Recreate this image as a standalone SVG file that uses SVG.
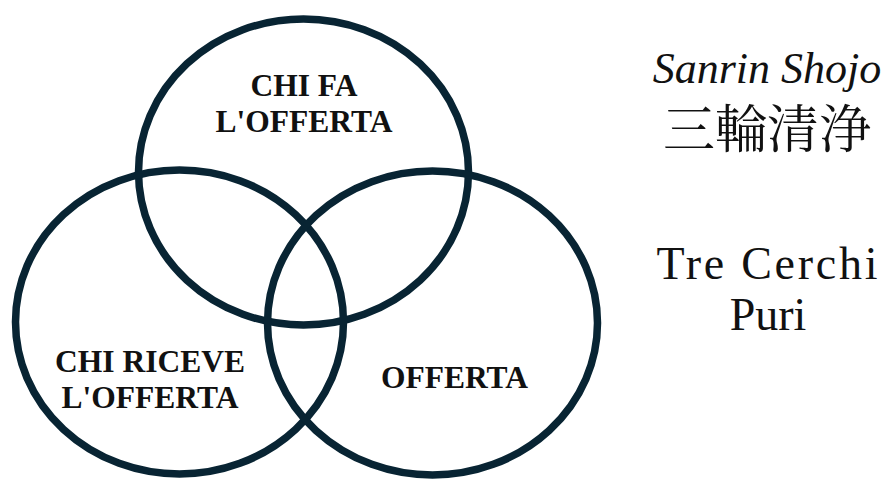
<svg xmlns="http://www.w3.org/2000/svg" width="888" height="481" viewBox="0 0 888 481">
<style>
.ring{fill:none;stroke:#082433;stroke-width:7.5}
.lbl{font-family:"Liberation Serif","Times New Roman",serif;font-weight:bold;font-size:31.5px;fill:#111;text-anchor:middle}
.side{font-family:"Liberation Serif","Times New Roman",serif;fill:#111;text-anchor:middle}
.cjk{font-family:"Noto Serif CJK JP","Noto Sans CJK JP",serif;fill:#111;text-anchor:middle}
</style>
<rect width="888" height="481" fill="#fff"/>
<g id="circle-giver">
<ellipse class="ring" cx="303.5" cy="172" rx="165" ry="153"/>
<text class="lbl" x="304" y="96">CHI FA</text>
<text class="lbl" x="304" y="132">L'OFFERTA</text>
</g>
<g id="circle-receiver">
<ellipse class="ring" cx="179.5" cy="322" rx="164" ry="152"/>
<text class="lbl" x="150" y="372">CHI RICEVE</text>
<text class="lbl" x="150" y="408">L'OFFERTA</text>
</g>
<g id="circle-offering">
<ellipse class="ring" cx="432.5" cy="323" rx="165" ry="152"/>
<text class="lbl" x="454.5" y="388">OFFERTA</text>
</g>
<g id="title">
<text class="side" x="767" y="83" font-size="44" font-style="italic">Sanrin Shojo</text>
<text class="cjk" x="767" y="148" font-size="52">三輪清浄</text>
<text class="side" x="767" y="279" font-size="46" textLength="221">Tre Cerchi</text>
<text class="side" x="768" y="330" font-size="46">Puri</text>
</g>
</svg>
